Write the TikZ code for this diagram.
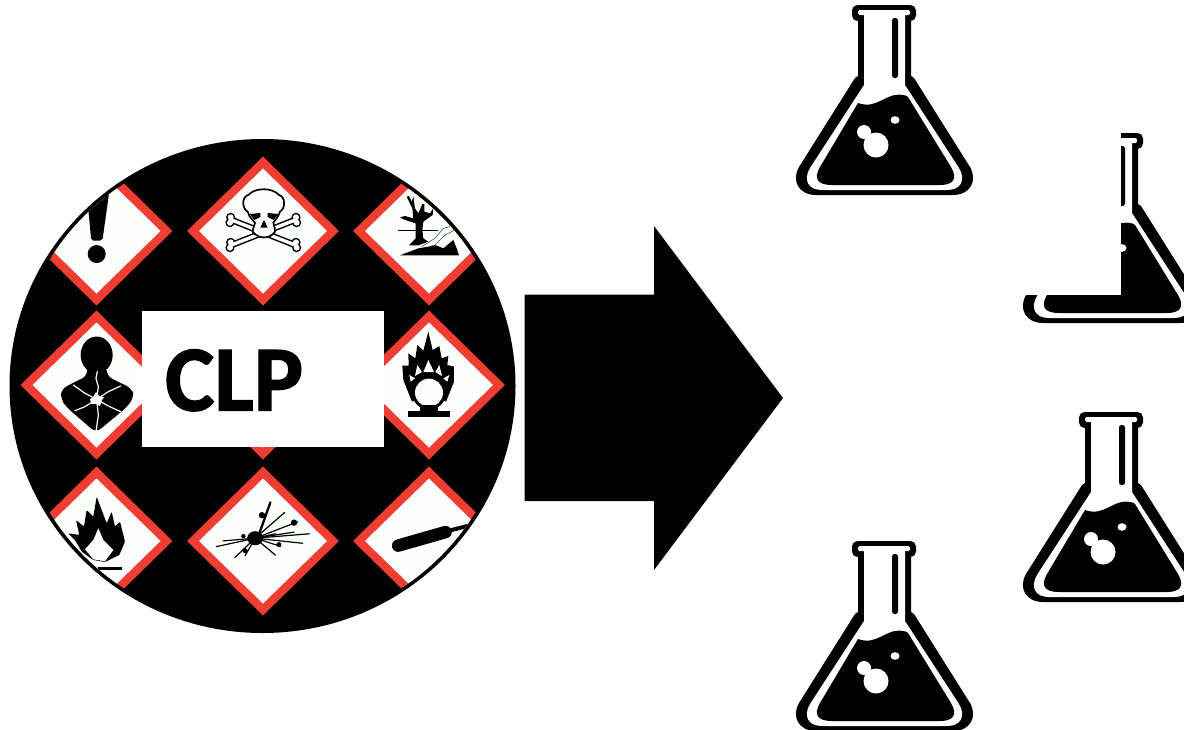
\documentclass[tikz,border=0pt]{standalone}
\usepackage{fontspec}
\setmainfont{Carlito}
\newfontfamily\clpfont{Carlito}[BoldFeatures={FakeBold=1.5}]
\definecolor{ghsred}{HTML}{EE3E33}
\definecolor{ghswhite}{HTML}{FCFFFC}
\tikzset{
  zoomA/.style={shift={(0,130)},x=.338pt,y=-.338pt},
  zoomB/.style={shift={(0,380)},x=.338pt,y=-.338pt},
  zoomC/.style={shift={(10,300)},x=.3333pt,y=-.3333pt},
  zoomD/.style={shift={(360,300)},x=.3333pt,y=-.3333pt},
  zoomE/.style={shift={(215,180)},x=.3333pt,y=-.3333pt},
  zoomF/.style={shift={(60,490)},x=.3333pt,y=-.3333pt},
  zoomG/.style={shift={(385,180)},x=.3333pt,y=-.3333pt},
  crack/.style={draw=ghswhite,line width=1.2pt,line cap=round,line join=round},
  ray/.style={draw=black,line cap=round,line width=1.2pt}
}
% diamond with red frame: centre x, centre y
\newcommand{\ghsdiamond}[2]{%
  \fill[ghsred] (#1-76,#2) -- (#1,#2-74.5) -- (#1+76,#2) -- (#1,#2+74.5) -- cycle;
  \fill[ghswhite] (#1-64,#2) -- (#1,#2-62.5) -- (#1+64,#2) -- (#1,#2+62.5) -- cycle;
}
% flask: shift from the first flask
\newcommand{\myflask}[2]{%
  \begin{scope}[shift={(#1,#2)}]
    \fill[black,rounded corners=5.5pt] (852,5) rectangle (916,21);
    \fill[black] (858,15) -- (858,76) -- (855,78) -- (799,167)
      .. controls (791,181) and (799,195) .. (816,195) -- (953,195)
      .. controls (970,195) and (978,181) .. (970,167) -- (914,78) -- (911,76) -- (911,15) -- cycle;
    \fill[white,rounded corners=1.5pt] (858,10) rectangle (910,15);
    \fill[white] (864,12) -- (864,85) -- (810,168)
      .. controls (803,180) and (808,190) .. (822,190) -- (947,190)
      .. controls (961,190) and (966,180) .. (959,168) -- (905,85) -- (905,12) -- cycle;
    \fill[black,rounded corners=2.5pt] (892,18) rectangle (898,78);
    \fill[black] (858,103) .. controls (878,110) and (885,92) .. (903,95)
      .. controls (905,95) and (907,96) .. (908,97) -- (951,167)
      .. controls (958,179) and (953,185) .. (940,185) -- (832,185)
      .. controls (818,185) and (813,179) .. (820,167) -- cycle;
    \fill[white] (876,145) circle [radius=12.5pt];
    \fill[white] (864,132) circle [radius=7pt];
    \fill[white] (895,120) circle [x radius=4.5pt,y radius=3.8pt];
  \end{scope}
}
\begin{document}
\begin{tikzpicture}[x=1pt,y=-1pt]
\useasboundingbox (0,0) rectangle (1184,729);
\fill[white] (0,0) rectangle (1184,729);
% disc
\fill[black] (262.5,386) circle [x radius=253pt,y radius=247pt];
\begin{scope}
  \clip (262.5,386) circle [x radius=249pt,y radius=243.5pt];
  \ghsdiamond{96.5}{231}
  \ghsdiamond{263}{231}
  \ghsdiamond{429}{231}
  \ghsdiamond{96.5}{385}
  \ghsdiamond{263}{385}
  \ghsdiamond{429}{385}
  \ghsdiamond{96.5}{541}
  \ghsdiamond{263}{541}
  \ghsdiamond{429}{541}
  % exclamation mark
  \begin{scope}[zoomA]
    \fill[black,rounded corners=2pt] (255,170) -- (325,170) -- (303,327) -- (270,327) -- cycle;
    \fill[black] (286,367) circle [radius=9pt];
  \end{scope}
  % skull and crossbones
  \begin{scope}[zoomE]
    \foreach \a/\b/\c/\d in {50/120/240/195,50/195/240/120}{
      \draw[black,line width=6.4pt,line cap=round] (\a,\b) -- (\c,\d);
      \fill[black] (\a-3,\b-8) circle [radius=4.6pt] (\a-5,\b+8) circle [radius=4.6pt]
                   (\c+3,\d-8) circle [radius=4.6pt] (\c+5,\d+8) circle [radius=4.6pt];
    }
    \foreach \a/\b/\c/\d in {50/120/240/195,50/195/240/120}{
      \draw[ghswhite,line width=3.4pt,line cap=round] (\a,\b) -- (\c,\d);
      \fill[ghswhite] (\a-3,\b-8) circle [radius=3pt] (\a-5,\b+8) circle [radius=3pt]
                   (\c+3,\d-8) circle [radius=3pt] (\c+5,\d+8) circle [radius=3pt];
    }
    \filldraw[fill=ghswhite,draw=black,line width=1.7pt]
      (120,128) .. controls (105,112) and (100,105) .. (98,95)
      .. controls (80,85) and (80,50) .. (100,45)
      .. controls (120,22) and (172,22) .. (192,45)
      .. controls (212,50) and (212,85) .. (195,95)
      .. controls (192,105) and (185,115) .. (175,128)
      .. controls (178,142) and (182,150) .. (180,155)
      .. controls (165,178) and (130,178) .. (113,155)
      .. controls (112,150) and (117,142) .. (120,128) -- cycle;
    \fill[black] (104,102) -- (136,99) -- (136,111) -- (118,120) -- cycle;
    \fill[black] (190,102) -- (158,99) -- (158,111) -- (176,120) -- cycle;
    \fill[black] (147,120) -- (136,143) -- (158,143) -- cycle;
  \end{scope}
  % dead tree in water
  \begin{scope}[zoomG]
    \fill[black] (72,196) -- (92,175) -- (92,130) -- (55,118) -- (45,112) -- (60,108) -- (85,115) -- (82,85) -- (65,50) -- (72,48) -- (80,65) -- (85,50) -- (90,85) -- (100,100) -- (112,72) -- (118,72) -- (118,95) -- (135,100) -- (145,85) -- (143,105) -- (115,125) -- (112,150) -- (115,175) -- (130,185) -- (100,196) -- cycle;
    \draw[black,line width=.6pt] (40,150) -- (160,150);
    \draw[black!70,line width=.6pt] (110,200) -- (150,175) -- (175,145) -- (195,140);
    \draw[black!70,line width=.6pt] (150,195) -- (180,165) -- (210,150);
    \fill[black] (45,226) -- (100,205) -- (130,200) -- (150,195) -- (175,205) -- (205,180) -- (215,205) -- (222,226) -- cycle;
  \end{scope}
  % health hazard
  \begin{scope}[zoomC]
    \fill[black] (260,165) ellipse [x radius=16pt,y radius=18.5pt];
    \fill[black,rounded corners=6pt] (232,200) -- (232,228) -- (190,248) -- (153,268) -- (153,298) -- (170,322) -- (258,398) -- (350,322) -- (373,290) -- (365,265) -- (330,248) -- (290,228) -- (290,200) -- cycle;
    \draw[crack] (260,298) -- (265,260) -- (258,235) -- (262,215);
    \draw[crack] (260,298) -- (225,280) -- (190,255);
    \draw[crack] (260,298) -- (295,275) -- (332,258);
    \draw[crack] (260,298) -- (225,320) -- (195,332);
    \draw[crack] (260,298) -- (295,318) -- (332,335);
    \draw[crack] (260,298) -- (265,345) -- (258,395);
    \fill[ghswhite] (240,298) -- (250,290) -- (258,276) -- (268,288) -- (282,292) -- (275,302) -- (270,318) -- (258,312) -- (245,312) -- cycle;
  \end{scope}
  % flame over circle
  \begin{scope}[zoomD]
    \fill[black] (205,95) -- (218,150) -- (238,138) -- (245,175) -- (265,168) -- (262,195) -- (282,200) -- (282,245) -- (258,305) -- (207,280) -- (156,305) -- (130,240) -- (127,197) -- (146,197) -- (145,160) -- (166,175) -- (172,135) -- (190,152) -- cycle;
    \fill[black] (207,278) circle [radius=17pt];
    \fill[ghswhite] (207,278) circle [radius=14pt];
    \fill[black] (145,333) rectangle (271,350);
    \fill[black] (180,315) rectangle (235,335);
    \fill[ghswhite] (205,180) -- (190,216) -- (222,216) -- cycle;
    \fill[ghswhite] (172,195) -- (165,228) -- (186,216) -- cycle;
    \fill[ghswhite] (238,195) -- (246,228) -- (226,216) -- cycle;
    \fill[ghswhite] (148,225) -- (152,245) -- (165,235) -- cycle;
    \fill[ghswhite] (268,225) -- (262,245) -- (250,235) -- cycle;
  \end{scope}
  % flame
  \begin{scope}[zoomF]
    \fill[black,rounded corners=1pt] (110,20) -- (125,60) -- (140,100) -- (155,65) -- (165,110) -- (180,95) -- (195,155) -- (178,195) -- (135,216) -- (100,210) -- (65,185) -- (45,150) -- (25,130) -- (58,135) -- (48,90) -- (72,110) -- (80,60) -- (100,80) -- cycle;
    \fill[ghswhite] (115,115) -- (130,150) -- (160,180) -- (135,214) -- (100,208) -- (75,178) -- (100,150) -- cycle;
    \fill[black] (115,230) rectangle (186,239);
  \end{scope}
  % exploding bomb
  \begin{scope}[zoomB]
    \fill[black] (755,468) circle [x radius=8pt,y radius=7pt];
    \draw[black,line width=2.3pt,line cap=round] (765,460) -- (800,362);
    \foreach \px/\py in {842/392,880/420,915/455,895/483,830/492,815/518,640/493,660/476,695/525,725/520,815/455,870/450}
      \draw[ray] (755,468) -- (\px,\py);
    \fill[black] (775,400) circle [radius=3.2pt] (870,422) circle [radius=3.2pt] (725,505) circle [radius=2.5pt] (825,487) circle [radius=2.5pt] (720,462) circle [radius=2.2pt];
  \end{scope}
  % gas cylinder
  \begin{scope}[zoomB]
    \draw[black,line width=12.5pt,line cap=round] (1178,490) -- (1318,450);
    \draw[black,line width=4pt] (1320,448) -- (1410,425);
  \end{scope}
\end{scope}
% label box
\node[fill=white,inner sep=0pt,minimum width=242pt,minimum height=136pt,anchor=north west] (box) at (142,311) {};
\node[inner sep=0pt,anchor=base west,font=\clpfont\fontsize{93}{93}\selectfont\bfseries] (clp) at (165,410.5) {CLP};
% big arrow
\fill[black] (524.5,294.5) -- (654,294.5) -- (654,226) -- (783,398) -- (654,570) -- (654,501) -- (524.5,501) -- cycle;
% flasks
\myflask{0}{0}
\myflask{227}{128}
\myflask{227}{407}
\myflask{0}{536}
\fill[white] (1010,120) rectangle (1121,294.5);
\end{tikzpicture}
\end{document}
